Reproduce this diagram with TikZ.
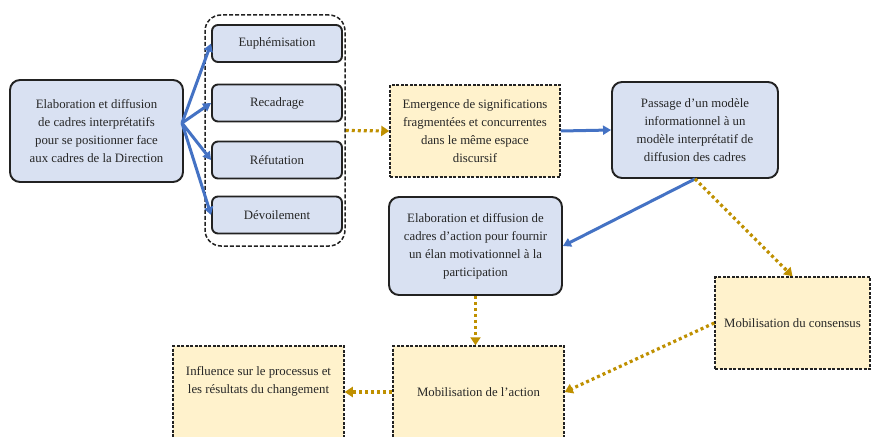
\documentclass[tikz,border=0pt]{standalone}
\usepackage{fontspec}
\setmainfont{Liberation Serif}
\usetikzlibrary{arrows.meta}
\definecolor{bluefill}{HTML}{D9E1F2}
\definecolor{yelfill}{HTML}{FFF2CC}
\definecolor{bluearr}{HTML}{4472C4}
\definecolor{goldarr}{HTML}{BF9000}
\definecolor{txt}{HTML}{262626}
\definecolor{edgec}{HTML}{222222}
\begin{document}
\begin{tikzpicture}[x=1pt,y=-1pt,
  lbl/.style={align=center, text=txt, font=\fontsize{12.8}{18}\selectfont, inner sep=0pt},
  bbox/.style={lbl, draw=edgec, line width=1.9pt, fill=bluefill, rounded corners=10pt},
  sbox/.style={lbl, draw=edgec, line width=1.9pt, fill=bluefill, rounded corners=6pt, minimum width=130pt, minimum height=37pt},
  ybox/.style={lbl, draw=edgec, line width=1.5pt, dash pattern=on 3pt off 1.5pt, fill=yelfill},
  groupbox/.style={draw=edgec, line width=1.5pt, dash pattern=on 4pt off 2pt, rounded corners=16pt},
  barrow/.style={draw=bluearr, line width=3pt, -{Triangle[length=8pt,width=9pt]}},
  garrow/.style={draw=goldarr, line width=3.2pt, dash pattern=on 3pt off 3pt, -{Triangle[length=8pt,width=10pt]}}]
\useasboundingbox (0,0) rectangle (872,436);
\clip (0,0) rectangle (872,436);
\fill[white] (0,0) rectangle (872,436);

\node[groupbox, minimum width=140pt, minimum height=231pt] (group) at (275,130.5) {};

\node[bbox, minimum width=173pt, minimum height=102pt] (left) at (96.5,131)
  {Elaboration et diffusion\\de cadres interprétatifs\\pour se positionner face\\aux cadres de la Direction};
\coordinate (fan) at (182,123);

\node[sbox] (euph) at (277,43.5) {Euphémisation};
\node[sbox] (recad) at (277,103) {Recadrage};
\node[sbox] (refut) at (277,160) {Réfutation};
\node[sbox] (devoil) at (277,215) {Dévoilement};

\node[ybox, minimum width=170pt, minimum height=92pt] (emerg) at (475,131)
  {Emergence de significations\\fragmentées et concurrentes\\dans le même espace\\discursif};
\node[bbox, minimum width=166pt, minimum height=96pt] (passage) at (695,130)
  {Passage d’un modèle\\informationnel à un\\modèle interprétatif de\\diffusion des cadres};
\node[bbox, minimum width=173pt, minimum height=98pt] (elab) at (475.5,246)
  {Elaboration et diffusion de\\cadres d’action pour fournir\\un élan motivationnel à la\\participation};
\node[ybox, minimum width=155pt, minimum height=92pt] (consensus) at (792.5,323)
  {Mobilisation du consensus};
\node[ybox, minimum width=171pt, minimum height=92pt] (action) at (478.5,392)
  {Mobilisation de l’action};
\node[ybox, minimum width=171pt, minimum height=92pt] (influence) at (258.5,392)
  {Influence sur le processus et\\les résultats du changement\\\strut};

\draw[barrow] (fan) -- (euph.west);
\draw[barrow] (fan) -- (recad.west);
\draw[barrow] (fan) -- (refut.west);
\draw[barrow] (fan) -- (devoil.west);

\draw[garrow] (group.east) -- (emerg.west);
\draw[barrow] (emerg.east) -- (passage.west);
\draw[barrow] (passage.south) -- (elab.east);
\draw[garrow] (passage.south) -- (consensus.north);
\draw[garrow] (elab.south) -- (elab.south |- action.north);
\draw[garrow] (consensus.west) -- (action.east);
\draw[garrow] (action.west) -- (influence.east);
\end{tikzpicture}
\end{document}
